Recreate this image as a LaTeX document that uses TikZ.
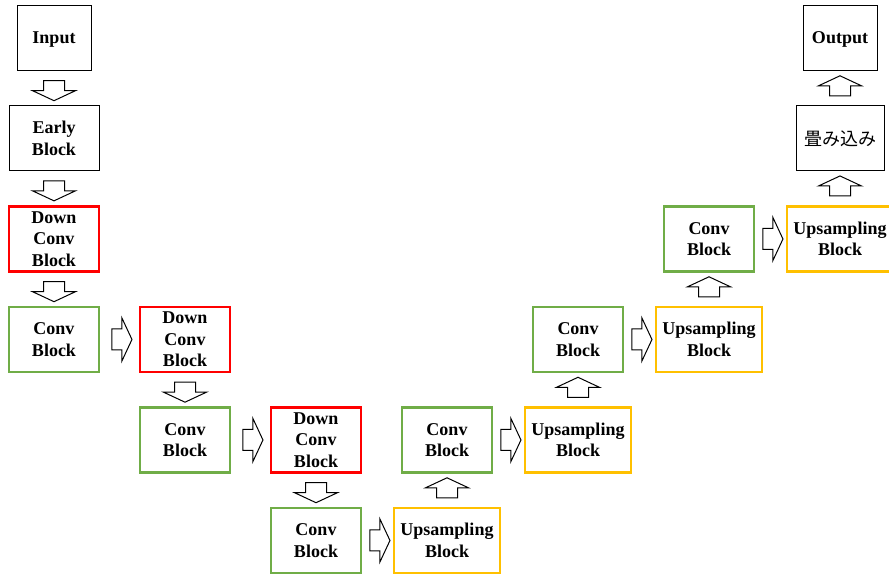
\documentclass[tikz,border=0pt]{standalone}
\usepackage{fontspec}
\setmainfont{Liberation Serif}
\newfontfamily\jpfont{Noto Sans CJK JP}
\usetikzlibrary{positioning,shapes.arrows}
\definecolor{dcred}{RGB}{255,0,0}
\definecolor{cgreen}{RGB}{112,173,71}
\definecolor{upgold}{RGB}{255,192,0}

\begin{document}
\begin{tikzpicture}[x=0.5pt, y=-0.5pt, node distance=50.25pt and 65.5pt, on grid]
	\tikzstyle{block} = [draw, line width=0.5pt, minimum width=45pt, minimum height=32.5pt, inner sep=0pt, align=center, font=\fontsize{9}{10.8}\selectfont\bfseries]
	\tikzstyle{io} = [block, minimum width=37pt, text depth=0pt]
	\tikzstyle{down} = [block, draw=dcred, line width=1.2pt]
	\tikzstyle{conv} = [block, draw=cgreen, line width=1.2pt]
	\tikzstyle{ups} = [block, draw=upgold, line width=1.2pt, minimum width=53pt]
	\tikzstyle{fat} = [single arrow, draw, fill=white, line width=0.5pt, minimum height=10pt, inner xsep=2.5pt, inner ysep=5pt, single arrow head extend=5.5pt, single arrow tip angle=130]
	\useasboundingbox (0,0) rectangle (889,576);
	\path
	  node[io] (input) at (54,38) {Input}
	  node[block, below=of input] (early) {Early\\Block}
	  node[down, below=of early] (dc1) {Down\\Conv\\Block}
	  node[conv, below=of dc1] (cb1) {Conv\\Block}
	  node[down, right=of cb1] (dc2) {Down\\Conv\\Block}
	  node[conv, below=of dc2] (cb2) {Conv\\Block}
	  node[down, right=of cb2] (dc3) {Down\\Conv\\Block}
	  node[conv, below=of dc3] (cb3) {Conv\\Block}
	  node[ups, right=of cb3] (up1) {Upsampling\\Block}
	  node[conv, above=of up1] (cb4) {Conv\\Block}
	  node[ups, right=of cb4] (up2) {Upsampling\\Block}
	  node[conv, above=of up2] (cb5) {Conv\\Block}
	  node[ups, right=of cb5] (up3) {Upsampling\\Block}
	  node[conv, above=of up3] (cb6) {Conv\\Block}
	  node[ups, right=of cb6] (up4) {Upsampling\\Block}
	  node[block, above=of up4, minimum width=44pt, font=\fontsize{9}{10.8}\selectfont\jpfont] (conv) {畳み込み}
	  node[io, above=of conv] (output) {Output};
	% block arrows
	\foreach \a/\b in {input/early, early/dc1, dc1/cb1, dc2/cb2, dc3/cb3}
	  \path (\a) -- node[fat, rotate=-90] (\a-\b) {} (\b);
	\foreach \a/\b in {cb1/dc2, cb2/dc3, cb3/up1, cb4/up2, cb5/up3, cb6/up4}
	  \path (\a) -- node[fat] (\a-\b) {} (\b);
	\foreach \a/\b in {up1/cb4, up2/cb5, up3/cb6, up4/conv, conv/output}
	  \path (\a) -- node[fat, rotate=90] (\a-\b) {} (\b);
\end{tikzpicture}
\end{document}
